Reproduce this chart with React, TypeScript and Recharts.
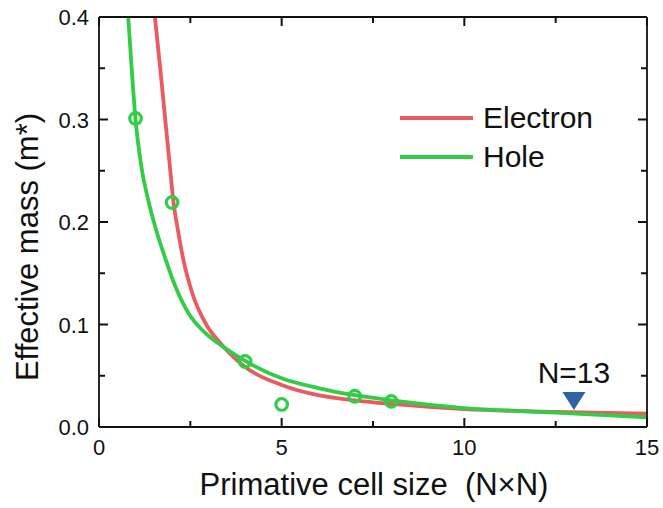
import React from "react";
import { ComposedChart, Line, Scatter, XAxis, YAxis, Legend } from "recharts";

// fitted curves
const electronX = [1.53, 1.67, 1.81, 1.93, 2.03, 2.17, 2.31, 2.54, 2.95, 3.32, 4, 5, 6, 7, 8, 10, 12.5, 15];
const electronY = [0.4, 0.352, 0.301, 0.258, 0.222, 0.19, 0.163, 0.132, 0.099, 0.082, 0.0585, 0.041, 0.031, 0.026, 0.0225, 0.0175, 0.0148, 0.013];
const holeX = [0.8, 0.89, 1.0, 1.17, 1.35, 1.55, 1.81, 2.08, 2.45, 2.9, 3.45, 4, 5, 6, 7, 8, 10, 12.5, 15];
const holeY = [0.4, 0.352, 0.3, 0.252, 0.221, 0.194, 0.165, 0.138, 0.111, 0.092, 0.077, 0.0645, 0.0475, 0.038, 0.031, 0.026, 0.0185, 0.014, 0.0095];

// computed hole masses (open circles)
const cellN = [1, 2, 4, 5, 7, 8];
const holeMass = [0.301, 0.219, 0.064, 0.022, 0.03, 0.025];

// N=13 marker
const markerN = [13];
const markerMass = [0.0166];

const xTicks = [0, 2.5, 5, 7.5, 10, 12.5, 15];
const yTicks = [0, 0.05, 0.1, 0.15, 0.2, 0.25, 0.3, 0.35, 0.4];

const seriesNames = ["Electron", "Hole"];
const RED = "#EA5A61";
const GREEN = "#33CC47";
const BLUE = "#2F62A6";
const INK = "#111";
const FONT = "'Liberation Sans', Arial, Helvetica, sans-serif";

const W = 663;
const H = 508;
const margin = { top: 7, right: 6, bottom: 41, left: 49 };
const axisH = { bottom: 40, top: 10 };
const axisW = { left: 50, right: 10 };
// plot box size, used to mirror tick marks onto the top / right edges
const PLOT_W = W - margin.left - margin.right - axisW.left - axisW.right;
const PLOT_H = H - margin.top - margin.bottom - axisH.bottom - axisH.top;

const electronData = electronX.map((x, i) => ({ x, y: electronY[i] }));
const holeData = holeX.map((x, i) => ({ x, y: holeY[i] }));
const dotData = cellN.map((x, i) => ({ x, y: holeMass[i] }));
const markerData = markerN.map((x, i) => ({ x, y: markerMass[i] }));

const isMajor = (v: number, step: number) =>
  Math.abs(v / step - Math.round(v / step)) < 1e-6;

const BottomTick = ({ x, y, payload }: any) => {
  const major = isMajor(payload.value, 5);
  const len = major ? 9 : 6;
  const top = y - PLOT_H;
  return (
    <g>
      <path d={`M${x},${y}V${y - len}`} stroke={INK} strokeWidth={2} />
      <path d={`M${x},${top}V${top + len}`} stroke={INK} strokeWidth={2} />
      {major && (
        <text x={x} y={y + 28} textAnchor="middle" fontSize={22} fontFamily={FONT} fill={INK}>
          {payload.value}
        </text>
      )}
    </g>
  );
};

const LeftTick = ({ x, y, payload }: any) => {
  const major = isMajor(payload.value, 0.1);
  const len = major ? 9 : 6;
  const right = x + PLOT_W;
  return (
    <g>
      <path d={`M${x},${y}H${x + len}`} stroke={INK} strokeWidth={2} />
      <path d={`M${right},${y}H${right - len}`} stroke={INK} strokeWidth={2} />
      {major && (
        <text x={x - 10} y={y + 8} textAnchor="end" fontSize={22} fontFamily={FONT} fill={INK}>
          {payload.value.toFixed(1)}
        </text>
      )}
    </g>
  );
};

const ringShape = (p: any) => (
  <circle cx={p.cx} cy={p.cy} r={5.8} fill="none" stroke={GREEN} strokeWidth={3.2} />
);

const markerShape = (p: any) => (
  <g>
    <path d={`M${p.cx - 11.5},${p.cy - 18} L${p.cx + 11.5},${p.cy - 18} L${p.cx},${p.cy} Z`} fill={BLUE} />
    <text x={p.cx} y={p.cy - 27} textAnchor="middle" fontSize={30} fontFamily={FONT} fill={INK}>
      {`N=${p.payload.x}`}
    </text>
  </g>
);

const LegendBox = () => (
  <div style={{ fontFamily: FONT, fontSize: 30, color: INK }}>
    {seriesNames.map((name, i) => (
      <div key={name} style={{ display: "flex", alignItems: "center", height: 39 }}>
        <div style={{ width: 73, height: 4, background: i === 0 ? RED : GREEN, marginRight: 10 }} />
        <span style={{ lineHeight: "39px" }}>{name}</span>
      </div>
    ))}
  </div>
);

const axisLine = { stroke: INK, strokeWidth: 1.8 };

export default function App() {
  return (
    <div style={{ position: "absolute", left: 0, top: 0, background: "#fff" }}>
      <ComposedChart width={W} height={H} margin={margin}>
        <XAxis
          dataKey="x"
          type="number"
          domain={[0, 15]}
          ticks={xTicks}
          interval={0}
          height={axisH.bottom}
          tickSize={0}
          tickMargin={0}
          tickLine={false}
          axisLine={axisLine}
          tick={BottomTick}
        />
        <XAxis
          xAxisId="top"
          orientation="top"
          type="number"
          domain={[0, 15]}
          height={axisH.top}
          tickLine={false}
          tick={false}
          axisLine={axisLine}
        />
        <YAxis
          dataKey="y"
          type="number"
          domain={[0, 0.4]}
          ticks={yTicks}
          interval={0}
          width={axisW.left}
          tickSize={0}
          tickMargin={0}
          tickLine={false}
          axisLine={axisLine}
          tick={LeftTick}
        />
        <YAxis
          yAxisId="right"
          orientation="right"
          type="number"
          domain={[0, 0.4]}
          width={axisW.right}
          tickLine={false}
          tick={false}
          axisLine={axisLine}
        />
        <Line
          data={electronData}
          dataKey="y"
          name={seriesNames[0]}
          type="monotone"
          stroke={RED}
          strokeWidth={3.8}
          dot={false}
          activeDot={false}
          isAnimationActive={false}
        />
        <Line
          data={holeData}
          dataKey="y"
          name={seriesNames[1]}
          type="monotone"
          stroke={GREEN}
          strokeWidth={3.8}
          dot={false}
          activeDot={false}
          isAnimationActive={false}
        />
        <Scatter data={dotData} dataKey="y" shape={ringShape} legendType="none" isAnimationActive={false} />
        <Scatter data={markerData} dataKey="y" shape={markerShape} legendType="none" isAnimationActive={false} />
        <Legend
          layout="vertical"
          align="center"
          verticalAlign="middle"
          wrapperStyle={{ left: 400, top: 98, width: 240, height: 78 }}
          content={() => <LegendBox />}
        />
        <text x={374} y={495} textAnchor="middle" fontSize={31} fontFamily={FONT} fill={INK}>
          {"Primative cell size\u00A0\u00A0(N\u00D7N)"}
        </text>
        <text
          x={38}
          y={247}
          transform="rotate(-90 38 247)"
          textAnchor="middle"
          fontSize={31}
          fontFamily={FONT}
          fill={INK}
        >
          Effective mass (m*)
        </text>
      </ComposedChart>
    </div>
  );
}
